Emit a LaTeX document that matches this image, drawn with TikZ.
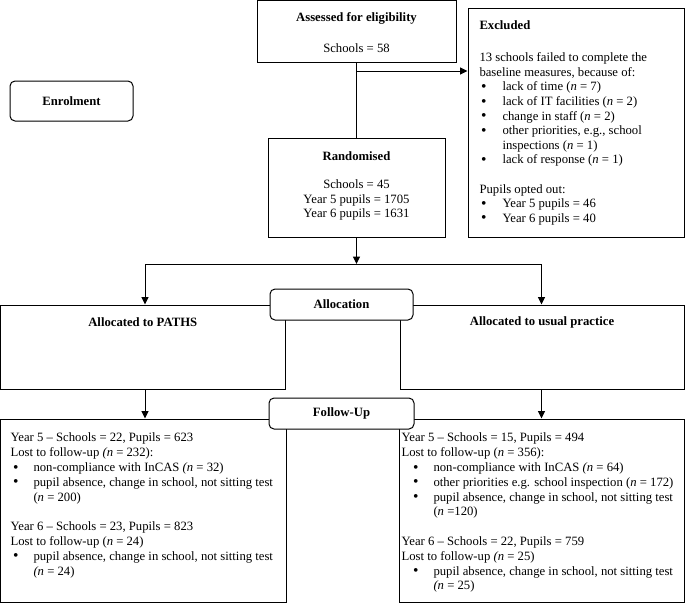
\documentclass[tikz,border=0pt]{standalone}
\usepackage{fontspec}
\setmainfont{Liberation Serif}
\usetikzlibrary{arrows.meta}
\newcommand{\bul}{\raisebox{-0.6pt}{\fontsize{15.5}{15.5}\selectfont\textbullet}}
\newcommand{\bE}{\hspace*{1.5pt}\makebox[21.5pt][l]{\bul}}
\newcommand{\bL}{\hspace*{2.5pt}\makebox[20.5pt][l]{\bul}}
\newcommand{\bR}{\hspace*{11.5pt}\makebox[20.5pt][l]{\bul}}
\begin{document}
\begin{tikzpicture}[x=1pt,y=-1pt,line width=1pt,
  box/.style={draw,rectangle,inner sep=0pt},
  rbox/.style={draw,rectangle,rounded corners=5pt,fill=white,inner sep=0pt,
    font=\fontsize{12.7}{14.6}\selectfont\bfseries},
  arr/.style={-{Triangle[length=7.5pt,width=7pt]}},
  body/.style={font=\fontsize{12.7}{14.6}\selectfont,align=left,inner sep=0pt,anchor=north west},
  lbody/.style={font=\fontsize{12.7}{14.8}\selectfont,align=left,inner sep=0pt,anchor=north west},
  ttl/.style={font=\fontsize{12.7}{14.6}\selectfont\bfseries,inner sep=0pt},
  txt/.style={font=\fontsize{12.7}{14.6}\selectfont,inner sep=0pt}]
\useasboundingbox (0,0) rectangle (685,603);

% boxes
\node[box,minimum width=199pt,minimum height=61.5pt] (assess) at (356.5,31.25) {};
\node[box,minimum width=216pt,minimum height=229pt] (excl) at (576,122.5) {};
\node[rbox,minimum width=123pt,minimum height=40pt] (enrol) at (71.5,101) {Enrolment};
\node[box,minimum width=177pt,minimum height=99pt] (rand) at (356.5,187.5) {};
\node[box,minimum width=284.5pt,minimum height=84pt] (paths) at (142.75,347) {};
\node[box,minimum width=284pt,minimum height=84pt] (usual) at (542,347) {};
\node[box,minimum width=285.5pt,minimum height=183pt] (lowL) at (143.25,510.5) {};
\node[box,minimum width=285pt,minimum height=183pt] (lowR) at (541.5,510.5) {};

% texts
\node[ttl] (assessT) at (356.5,18) {Assessed for eligibility};
\node[txt] (assessS) at (356.5,48) {Schools = 58};

\node[ttl,anchor=west] (exclT) at (479,25) {Excluded};
\node[body] (exclB) at (479,51) {\strut 13 schools failed to complete the\\
baseline measures, because of:\\
\bE lack of time (\textit{n} = 7)\\
\bE lack of IT facilities (\textit{n} = 2)\\
\bE change in staff (\textit{n} = 2)\\
\bE other priorities, e.g., school\\
\hspace*{23pt}inspections (\textit{n} = 1)\\
\bE lack of response (\textit{n} = 1)\\
~\\
Pupils opted out:\\
\bE Year 5 pupils = 46\\
\bE Year 6 pupils = 40};

\node[ttl] (randT) at (356.5,156) {Randomised};
\node[body,align=center,anchor=north] (randB) at (356.5,178) {\strut Schools = 45\\Year 5 pupils = 1705\\Year 6 pupils = 1631};

\node[ttl] (pathsT) at (142.75,322) {Allocated to PATHS};
\node[ttl] (usualT) at (542,322) {Allocated to usual practice};

\node[lbody] (lowLB) at (10,431) {\strut Year 5 – Schools = 22, Pupils = 623\\
Lost to follow-up \textit{(n} = 232):\\
\bL non-compliance with InCAS \textit{(n} = 32)\\
\bL pupil absence, change in school, not sitting test\\
\hspace*{23pt}(\textit{n} = 200)\\
~\\
Year 6 – Schools = 23, Pupils = 823\\
Lost to follow-up (\textit{n} = 24)\\
\bL pupil absence, change in school, not sitting test\\
\hspace*{23pt}\textit{(n} = 24)};

\node[lbody] (lowRB) at (401,431) {\strut Year 5 – Schools = 15, Pupils = 494\\
Lost to follow-up (\textit{n} = 356):\\
\bR non-compliance with InCAS \textit{(n} = 64)\\
\bR other priorities e.g. school inspection (\textit{n} = 172)\\
\bR pupil absence, change in school, not sitting test\\
\hspace*{32pt}(\textit{n} =120)\\
~\\
Year 6 – Schools = 22, Pupils = 759\\
Lost to follow-up \textit{(n} = 25)\\
\bR pupil absence, change in school, not sitting test\\
\hspace*{32pt}\textit{(n} = 25)};

% connectors
\coordinate (br) at (356.5,71);
\coordinate (split) at (356.5,264);
\coordinate (Lc) at (145,264);
\coordinate (Rc) at (541.5,264);
\draw (assess.south) -- (rand.north);
\draw[arr] (br) -- (br -| excl.west);
\draw[arr] (rand.south) -- (split);
\draw[arr] (split) -| (Lc |- paths.north);
\draw[arr] (split) -| (Rc |- usual.north);
\draw[arr] (Lc |- paths.south) -- (Lc |- lowL.north);
\draw[arr] (Rc |- usual.south) -- (Rc |- lowR.north);

% phase labels on top
\node[rbox,minimum width=143pt,minimum height=31pt] (alloc) at (341.5,304.5) {Allocation};
\node[rbox,minimum width=145pt,minimum height=31pt] (follow) at (341.5,413.5) {Follow-Up};
\end{tikzpicture}
\end{document}
